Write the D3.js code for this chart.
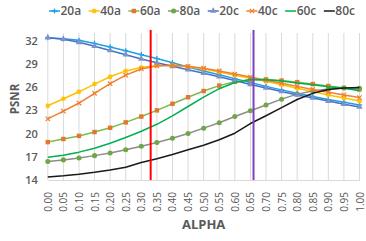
<!DOCTYPE html>
<html>
<head>
<meta charset="utf-8">
<script src="https://cdn.jsdelivr.net/npm/d3@7"></script>
<style>
  body { margin: 0; background: #fff; }
  svg { display: block; font-family: "Open Sans", sans-serif; }
</style>
</head>
<body>
<svg id="chart" width="366" height="241"></svg>
<script>
// x categories
const alphas = [0, 0.05, 0.10, 0.15, 0.20, 0.25, 0.30, 0.35, 0.40, 0.45, 0.50,
                0.55, 0.60, 0.65, 0.70, 0.75, 0.80, 0.85, 0.90, 0.95, 1.00];
const yTicks = [14, 17, 20, 23, 26, 29, 32];

// series (PSNR)
const s20a = [32.4, 32.25, 32.05, 31.65, 31.2, 30.7, 30.2, 29.7, 29.15, 28.6, 28.1, 27.6, 27.1, 26.6, 26.1, 25.65, 25.2, 24.8, 24.4, 24.05, 23.7];
const s40a = [23.6, 24.5, 25.4, 26.4, 27.35, 28.1, 28.55, 28.8, 28.85, 28.65, 28.35, 27.95, 27.55, 27.15, 26.75, 26.3, 25.85, 25.45, 25.0, 24.6, 24.2];
const s60a = [18.9, 19.3, 19.7, 20.2, 20.75, 21.45, 22.2, 23.0, 23.85, 24.7, 25.5, 26.2, 26.7, 26.95, 27.0, 26.85, 26.65, 26.4, 26.15, 25.9, 25.7];
const s80a = [16.4, 16.6, 16.85, 17.15, 17.5, 17.9, 18.35, 18.85, 19.4, 20.0, 20.7, 21.4, 22.2, 22.95, 23.7, 24.45, 25.1, 25.5, 25.75, 25.9, 25.85];
const s20c = [32.4, 32.2, 31.8, 31.3, 30.75, 30.2, 29.65, 29.15, 28.7, 28.25, 27.8, 27.35, 26.85, 26.35, 25.9, 25.45, 25.0, 24.6, 24.2, 23.8, 23.45];
const s40c = [21.9, 22.9, 23.95, 25.2, 26.45, 27.55, 28.35, 28.75, 28.8, 28.7, 28.45, 28.1, 27.7, 27.3, 26.9, 26.5, 26.1, 25.7, 25.35, 25.0, 24.65];
const s60c = [16.95, 17.2, 17.6, 18.1, 18.75, 19.5, 20.3, 21.2, 22.3, 23.5, 24.7, 25.8, 26.6, 27.0, 26.95, 26.8, 26.55, 26.3, 26.05, 25.85, 25.55];
const s80c = [14.4, 14.55, 14.75, 15.0, 15.3, 15.65, 16.25, 16.75, 17.3, 17.9, 18.5, 19.2, 20.05, 21.3, 22.3, 23.35, 24.4, 25.2, 25.7, 25.9, 25.95];

const seriesNames = ["20a", "40a", "60a", "80a", "20c", "40c", "60c", "80c"];
const seriesValues = [s20a, s40a, s60a, s80a, s20c, s40c, s60c, s80c];

// vertical reference lines
const markAlphas = [0.33, 0.66];

// styles
const STYLE = {
  "20a": { line: "#1F9FE6", mark: "plus",     fill: "#1F9FE6" },
  "40a": { line: "#FFC000", mark: "star",     fill: "#FFC000" },
  "60a": { line: "#7DBB4E", mark: "square",   fill: "#E0782F" },
  "80a": { line: "#8C8C8C", mark: "circle",   fill: "#6FA646" },
  "20c": { line: "#4A70C0", mark: "triangle", fill: "#7B93CC" },
  "40c": { line: "#F07F2E", mark: "cross",    fill: "#F07F2E" },
  "60c": { line: "#00B050", mark: null },
  "80c": { line: "#1A1A1A", mark: null }
};
const MARK_COLORS = ["#FF0000", "#8040C0"];
const TEXT = "#595959";
const GRID = "#D9D9D9";

const svg = d3.select("#chart");
const x = d3.scaleLinear().domain([0, 1]).range([47.8, 359.5]);
const y = d3.scaleLinear().domain([14, 33]).range([180, 33]);

// vertical gridlines
svg.append("g")
  .selectAll("line")
  .data(alphas)
  .join("line")
  .attr("x1", d => x(d)).attr("x2", d => x(d))
  .attr("y1", y(14)).attr("y2", y(33))
  .attr("stroke", GRID).attr("stroke-width", 1);

// x axis
const xAxis = svg.append("g")
  .attr("transform", `translate(0,${y(14)})`)
  .call(d3.axisBottom(x).tickValues(alphas).tickFormat(d3.format(".2f")).tickSize(0));
xAxis.select(".domain").attr("stroke", GRID);
xAxis.selectAll("text")
  .attr("transform", "rotate(-90)")
  .attr("text-anchor", "end")
  .attr("x", -12).attr("y", 0).attr("dy", "0.35em")
  .attr("fill", TEXT)
  .style("font-size", "10px")
  .style("font-family", "'Open Sans', sans-serif");

// y axis
const yAxis = svg.append("g")
  .attr("transform", `translate(${x(0)},0)`)
  .call(d3.axisLeft(y).tickValues(yTicks).tickSize(0).tickPadding(10));
yAxis.select(".domain").remove();
yAxis.selectAll("text")
  .attr("fill", TEXT)
  .style("font-size", "11px")
  .style("font-weight", 600)
  .style("font-family", "'Open Sans', sans-serif");

// axis titles
svg.append("text")
  .attr("x", (x(0) + x(1)) / 2).attr("y", 229)
  .attr("text-anchor", "middle")
  .attr("fill", TEXT)
  .style("font-size", "13px").style("font-weight", 700)
  .text("ALPHA");
svg.append("text")
  .attr("transform", `translate(19,${99}) rotate(-90)`)
  .attr("text-anchor", "middle")
  .attr("fill", TEXT)
  .style("font-size", "11.5px").style("font-weight", 700)
  .text("PSNR");

// marker drawing
function drawMark(g, type, color) {
  if (type === "plus") {
    g.append("path").attr("d", "M-2.6,0H2.6M0,-2.6V2.6")
      .attr("stroke", color).attr("stroke-width", 1.3).attr("fill", "none");
  } else if (type === "cross") {
    g.append("path").attr("d", "M-2.2,-2.2L2.2,2.2M-2.2,2.2L2.2,-2.2")
      .attr("stroke", color).attr("stroke-width", 1.2).attr("fill", "none");
  } else if (type === "star") {
    g.append("path").attr("d", "M-2.5,0H2.5M0,-2.5V2.5M-1.8,-1.8L1.8,1.8M-1.8,1.8L1.8,-1.8")
      .attr("stroke", color).attr("stroke-width", 1.1).attr("fill", "none");
  } else if (type) {
    const sym = { square: d3.symbolSquare, circle: d3.symbolCircle, triangle: d3.symbolTriangle }[type];
    const size = { square: 20, circle: 20, triangle: 18 }[type];
    g.append("path").attr("d", d3.symbol(sym, size)()).attr("fill", color);
  }
}

const line = d3.line()
  .x((d, i) => x(alphas[i]))
  .y(d => y(d));

// series
seriesNames.forEach((name, k) => {
  const st = STYLE[name];
  const g = svg.append("g");
  g.append("path")
    .datum(seriesValues[k])
    .attr("d", line)
    .attr("fill", "none")
    .attr("stroke", st.line)
    .attr("stroke-width", 1.5)
    .attr("stroke-linejoin", "round");
  if (st.mark) {
    seriesValues[k].forEach((v, i) => {
      const m = g.append("g").attr("transform", `translate(${x(alphas[i])},${y(v)})`);
      drawMark(m, st.mark, st.fill);
    });
  }
});

// reference lines
svg.append("g")
  .selectAll("line")
  .data(markAlphas)
  .join("line")
  .attr("x1", d => x(d)).attr("x2", d => x(d))
  .attr("y1", y(14)).attr("y2", y(33.4))
  .attr("stroke", (d, i) => MARK_COLORS[i])
  .attr("stroke-width", 2);

// legend
const legend = svg.append("g").attr("transform", "translate(49,11)");
let lx = 0;
seriesNames.forEach(name => {
  const st = STYLE[name];
  const item = legend.append("g").attr("transform", `translate(${lx},0)`);
  item.append("line")
    .attr("x1", 0).attr("x2", 11).attr("y1", 0).attr("y2", 0)
    .attr("stroke", st.line).attr("stroke-width", 1.5);
  const m = item.append("g").attr("transform", "translate(5.5,0)");
  drawMark(m, st.mark, st.fill);
  const t = item.append("text")
    .attr("x", 11.5).attr("y", 0).attr("dy", "0.35em")
    .attr("fill", TEXT)
    .style("font-size", "12px").style("font-weight", 600)
    .text(name);
  lx += 11.5 + t.node().getComputedTextLength() + 7.5;
});
</script>
</body>
</html>
